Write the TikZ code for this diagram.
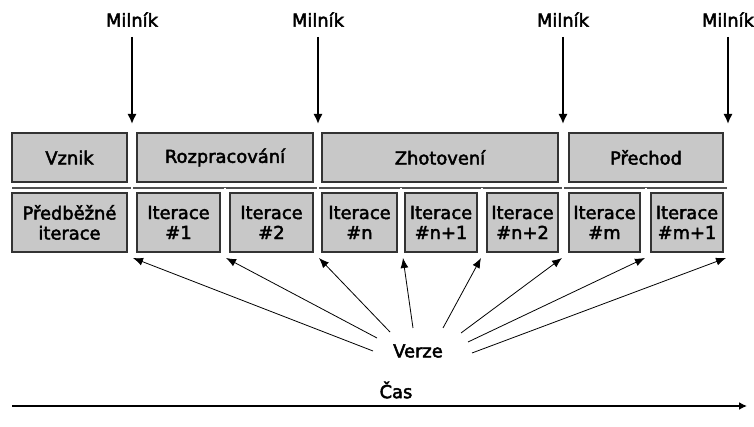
\documentclass[tikz,border=0pt]{standalone}
\usepackage{fontspec}
\setmainfont{DejaVu Sans}[FakeBold=2.6]
\usetikzlibrary{arrows.meta}
\definecolor{boxfill}{HTML}{C8C8C8}
\definecolor{boxedge}{HTML}{333333}
\definecolor{sepgray}{HTML}{505050}
\def\px{0.75pt}
\begin{document}
\begin{tikzpicture}[x=0.75pt,y=-0.75pt,
  every node/.style={font=\fontsize{13.4}{15}\selectfont},
  box/.style={draw=boxedge, fill=boxfill, line width=1pt, align=center, inner sep=0pt},
  sep/.style={draw=sepgray, line width=0.5pt, double=white, double distance=1.2pt},
  rowline/.style={draw=sepgray, line width=0.8pt},
  label/.style={inner sep=0pt, text=black},
  milarrow/.style={line width=1.5pt, -{Latex[length=7.5pt,width=7pt]}},
  verarrow/.style={line width=0.6pt, -{Latex[length=7.5pt,width=6pt]}},
  timearrow/.style={line width=2pt, -{Latex[length=6pt,width=6pt]}}
]
\useasboundingbox (0,0) rectangle (754,427);

% phases (top row)
\node[box, minimum width=115*\px, minimum height=49*\px] (vznik) at (69.5,157.5) {Vznik};
\node[box, minimum width=176*\px, minimum height=49*\px] (rozp)  at (225,157.5) {Rozpracování};
\node[box, minimum width=236*\px, minimum height=49*\px] (zhot)  at (440,157.5) {Zhotovení};
\node[box, minimum width=154*\px, minimum height=49*\px] (prech) at (646,157.5) {Přechod};

% iterations (bottom row)
\node[box, minimum width=115*\px, minimum height=59*\px] (pred) at (69.5,222.5) {Předběžné\\iterace};
\node[box, minimum width=83*\px, minimum height=59*\px] (it1) at (178.5,222.5) {Iterace\\\#1};
\node[box, minimum width=83*\px, minimum height=59*\px] (it2) at (271.5,222.5) {Iterace\\\#2};
\node[box, minimum width=75*\px, minimum height=59*\px] (itn) at (359.5,222.5) {Iterace\\\#n};
\node[box, minimum width=72*\px, minimum height=59*\px] (itn1) at (441,222.5) {Iterace\\\#n+1};
\node[box, minimum width=71*\px, minimum height=59*\px] (itn2) at (522.5,222.5) {Iterace\\\#n+2};
\node[box, minimum width=71*\px, minimum height=59*\px] (itm) at (604.5,222.5) {Iterace\\\#m};
\node[box, minimum width=72*\px, minimum height=59*\px] (itm1) at (687,222.5) {Iterace\\\#m+1};

% row divider
\draw[rowline] (12,188) -- (728,188);

% phase boundaries (full height) and iteration boundaries (bottom row)
\foreach \i/\x in {1/132,2/318,3/563,4/728}{
  \draw[sep] (\x,131) coordinate (ptop\i) -- (\x,254) coordinate (pbot\i);
}
\foreach \i/\x in {1/225,2/401,3/482,4/646}{
  \draw[sep] (\x,188) coordinate (itop\i) -- (\x,254) coordinate (ibot\i);
}

% milestones
\foreach \i/\x in {1/132,2/318,3/563,4/728}{
  \node[label] (mil\i) at (\x,19.5) {Milník};
  \coordinate (mtip\i) at (\x,124);
  \draw[milarrow] ([yshift=-7.5pt]mil\i.south) -- (mtip\i);
}

% releases
\node[label] (verze) at (418,351) {Verze};
\coordinate (v1) at (373,351);
\coordinate (v2) at (377,338);
\coordinate (v3) at (390,332);
\coordinate (v4) at (413,328);
\coordinate (v5) at (443,328);
\coordinate (v6) at (461,333);
\coordinate (v7) at (468,342);
\coordinate (v8) at (472,353);
\coordinate (r1) at (133,258);
\coordinate (r2) at (226,258);
\coordinate (r3) at (319,258);
\coordinate (r4) at (403,258);
\coordinate (r5) at (481,258);
\coordinate (r6) at (562,258);
\coordinate (r7) at (645,258);
\coordinate (r8) at (726,258);
\foreach \i in {1,...,8}{
  \draw[verarrow] (v\i) -- (r\i);
}

% time axis
\node[label] (cas) at (396,390) {Čas};
\coordinate (t0) at (12,406);
\coordinate (t1) at (747,406);
\draw[timearrow] (t0) -- (t1);
\end{tikzpicture}
\end{document}
